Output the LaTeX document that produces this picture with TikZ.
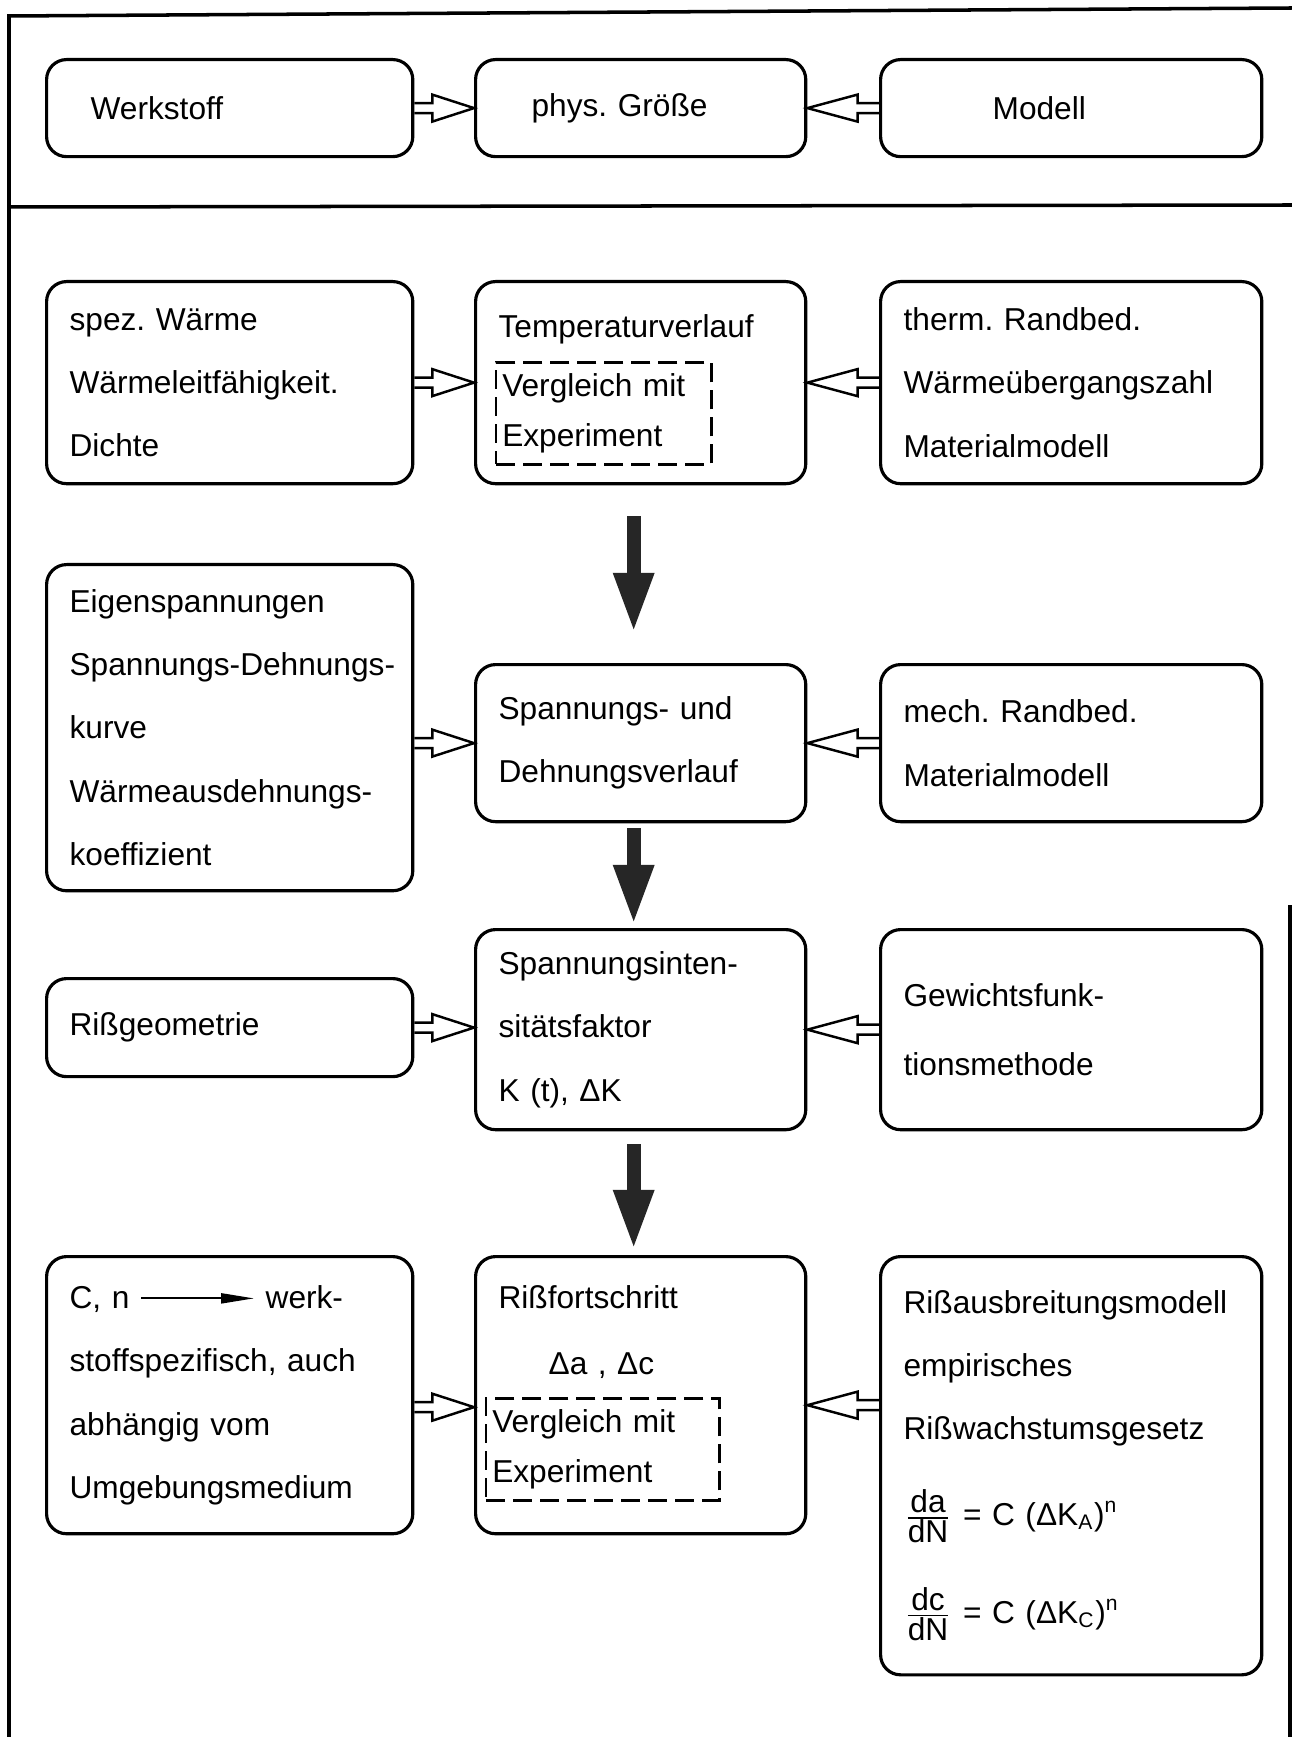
\documentclass[tikz,border=0pt]{standalone}
\usepackage{fontspec}
\setmainfont{Liberation Sans}
\usetikzlibrary{arrows.meta,positioning,calc}
\tikzset{
  box/.style={draw,line width=0.9pt,rounded corners=0.2cm,anchor=north west,
    align=left,inner xsep=0.23cm,inner ysep=0pt,font=\fontsize{9}{18}\selectfont},
  lcol/.style={text width=3.2cm},
  mcol/.style={text width=2.84cm},
  rcol/.style={text width=3.35cm},
  probe/.style={draw,line width=0.7pt,dash pattern=on 0.19cm off 0.08cm,
    anchor=north west,align=left,inner xsep=0.06cm,inner ysep=0pt,
    minimum height=1.02cm,font=\fontsize{9}{14.2}\selectfont},
  % double-walled open arrow between two boxes
  hollow/.style={line width=0.7pt,to path={
    let \p1=(\tikztostart), \p2=(\tikztotarget), \p3=($(\p1)!0.3!(\p2)$) in
    (\x1,\y1+0.05cm) -- (\x3,\y1+0.05cm) -- (\x3,\y1+0.135cm) -- (\x2,\y1)
    -- (\x3,\y1-0.135cm) -- (\x3,\y1-0.05cm) -- (\x1,\y1-0.05cm)}},
  flow/.style={line width=0.14cm,draw=black!85,-{Triangle[length=0.6cm,width=0.37cm]}},
  frame/.style={line width=1pt}
}
\newcommand{\smallto}{\tikz[baseline=-0.6ex]\draw[line width=0.6pt,
  -{Triangle[length=0.33cm,width=0.1cm]}] (0cm,0cm) -- (1.13cm,0cm);}

\begin{document}
\begin{tikzpicture}[x=0.01cm,y=-0.01cm]
\fill[white] (0,0) rectangle (1292,1737);
\useasboundingbox (0,0) rectangle (1292,1737);
% outer frame
\draw[frame] (9,1737) -- (9,16) -- (1292,8);
\draw[frame] (9,207) -- (1292,205);
\draw[frame] (1290,905) -- (1290,1737);
%
\node (werk) [box,inner xsep=0.44cm,text width=2.78cm,minimum height=0.97cm] at (45,58) {Werkstoff};
\node (phys) [box,inner xsep=0.56cm,text width=2.18cm,minimum height=0.97cm] at (474,58) {phys.\ Größe};
\node (model) [box,inner xsep=1.12cm,text width=1.57cm,minimum height=0.97cm] at (879,58) {Modell};
\draw[hollow] (werk.east) to (phys.west);
\draw[hollow] (model.west) to (phys.east);
%
\node (waerme) [box,lcol,minimum height=2.02cm] at (45,280) {spez.\ Wärme\\Wärmeleitfähigkeit.\\Dichte};
\node (temp) [box,mcol,text height=0.56cm,text depth=1.46cm] at (474,280) {Temperaturverlauf};
\node (exp1) [probe,text width=2.03cm,below right=0.81cm and 0.21cm of temp.north west] {Vergleich mit\\Experiment};
\node (therm) [box,rcol,minimum height=2.02cm] at (879,280) {therm.\ Randbed.\\Wärmeübergangszahl\\Materialmodell};
\draw[hollow] (waerme.east) to (temp.west);
\draw[hollow] (therm.west) to (temp.east);
%
\node (eigen) [box,lcol,minimum height=3.26cm] at (45,563) {Eigenspannungen\\\mbox{Spannungs-Dehnungs-}\\kurve\\Wärmeausdehnungs-\\koeffizient};
\node (spann) [box,mcol,minimum height=1.57cm] at (474,663) {Spannungs- und\\Dehnungsverlauf};
\node (mech) [box,rcol,minimum height=1.57cm] at (879,663) {mech.\ Randbed.\\Materialmodell};
\draw[hollow] (eigen.east |- spann.west) to (spann.west);
\draw[hollow] (mech.west) to (spann.east);
%
\node (riss) [box,lcol,minimum height=0.98cm] at (45,977) {Rißgeometrie};
\node (ki) [box,mcol,minimum height=2cm] at (474,928) {Spannungsinten-\\sitätsfaktor\\K (t), ΔK};
\node (gewicht) [box,rcol,minimum height=2cm] at (879,928) {Gewichtsfunk-\\[0.06cm]tionsmethode};
\draw[hollow] (riss.east) to (ki.west);
\draw[hollow] (gewicht.west) to (ki.east);
%
\node (cn) [box,lcol,minimum height=2.77cm] at (45,1255) {C, n \smallto\ werk-\\stoffspezifisch, auch\\abhängig vom\\Umgebungsmedium};
\node (fort) [box,mcol,text height=0.52cm,text depth=2.25cm] at (474,1255) {Rißfortschritt\\[0.03cm]\hspace*{0.5cm}Δa , Δc};
\node (exp2) [probe,text width=2.21cm,below right=1.42cm and 0.11cm of fort.north west] {Vergleich mit\\Experiment};
\node (ausbr) [box,rcol,minimum height=4.18cm] at (879,1255) {Rißausbreitungsmodell\\empirisches\\Rißwachstumsgesetz\\[6.4pt]
  $\frac{\mbox{da}}{\mbox{dN}}$ = C (ΔK\textsubscript{A})\textsuperscript{n}\\[9.8pt]
  $\frac{\mbox{dc}}{\mbox{dN}}$ = C (ΔK\textsubscript{C})\textsuperscript{n}};
\draw[hollow] ($(cn.east)+(0,12)$) to ($(fort.west)+(0,12)$);
\draw[hollow] ($(ausbr.west |- fort.east)+(0,10)$) to ($(fort.east)+(0,10)$);
%
\draw[flow,shorten <=0.31cm,shorten >=0.3cm] ([xshift=-0.07cm]temp.south) -- ([xshift=-0.07cm]spann.north);
\draw[flow,shorten <=0.05cm,shorten >=0.03cm] ([xshift=-0.07cm]spann.south) -- ([xshift=-0.07cm]ki.north);
\draw[flow,shorten <=0.13cm,shorten >=0.05cm] ([xshift=-0.07cm]ki.south) -- ([xshift=-0.07cm]fort.north);
\end{tikzpicture}
\end{document}
